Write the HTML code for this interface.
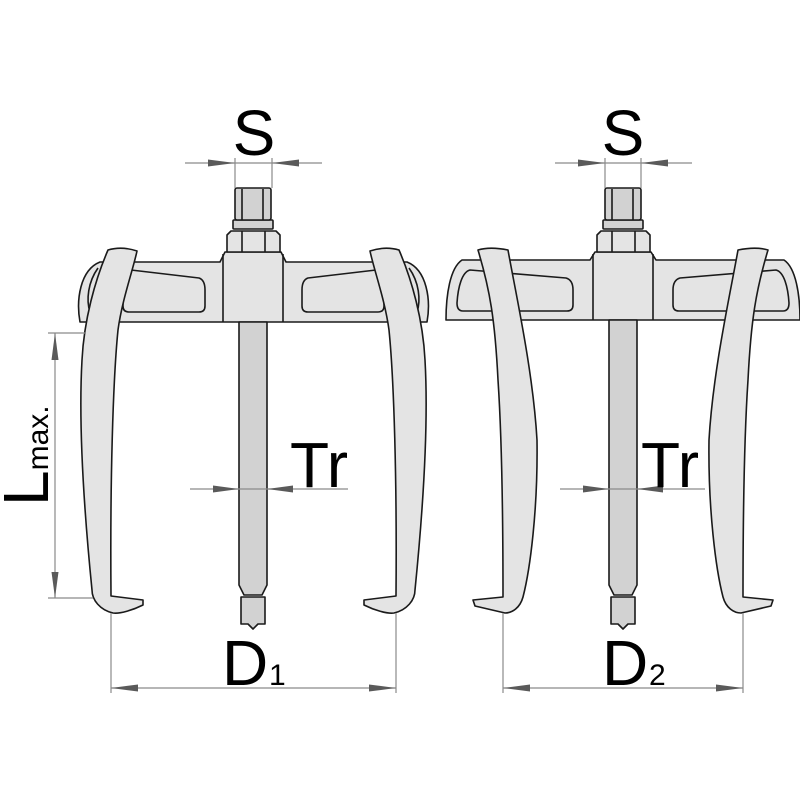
<!DOCTYPE html>
<html><head><meta charset="utf-8"><style>
html,body{margin:0;padding:0;background:#fff;}
svg{display:block;}
text{font-family:"Liberation Sans",Arial,sans-serif;fill:#000;}
.p{fill:#e4e4e4;stroke:#1a1a1a;stroke-width:1.6;stroke-linejoin:round;}
.d{fill:#d2d2d2;stroke:#1a1a1a;stroke-width:1.6;stroke-linejoin:round;}
.ln{stroke:#1a1a1a;stroke-width:1.6;fill:none;}
.dim{stroke:#8a8a8a;stroke-width:1.2;fill:none;}
.ar{fill:#5a5a5a;}
</style></head><body>
<svg width="800" height="800" viewBox="0 0 800 800" xmlns="http://www.w3.org/2000/svg">
<rect width="800" height="800" fill="#fff"/>

<!-- ===== LEFT PULLER ===== -->
<g>
  <!-- bar -->
  <path class="p" d="M80,322 C76,300 80,270 100,262 L220,262 L225,252 L281,252 L286,262 L407,262 C427,270 431,300 427,322 Z"/>
  <path class="ln" d="M98,268 C88,282 86,300 90,312"/>
  <path class="ln" d="M409,268 C419,282 421,300 417,312"/>
  <path class="p" d="M123,276 Q124,270 131,270 L199,278 Q205,280 205,290 L205,306 Q205,312 199,312 L129,312 Q123,312 123,306 Z"/>
  <path class="p" transform="translate(507,0) scale(-1,1)" d="M123,276 Q124,270 131,270 L199,278 Q205,280 205,290 L205,306 Q205,312 199,312 L129,312 Q123,312 123,306 Z"/>
  <line class="ln" x1="223" y1="254" x2="223" y2="322"/>
  <line class="ln" x1="283" y1="254" x2="283" y2="322"/>
  <!-- nut, washer, hex -->
  <path class="p" d="M227,252 L227,235 L231,231 L276,231 L280,235 L280,252 Z"/>
  <line class="ln" x1="242" y1="231" x2="242" y2="252"/>
  <line class="ln" x1="265" y1="231" x2="265" y2="252"/>
  <rect class="d" x="233" y="220" width="40" height="9" rx="1"/>
  <rect class="d" x="235" y="188" width="36" height="32" rx="2"/>
  <line class="ln" x1="242" y1="189" x2="242" y2="220"/>
  <line class="ln" x1="263" y1="189" x2="263" y2="220"/>
  <!-- rod -->
  <path class="d" d="M239,322 L267,322 L267,585 L262,595 L244,595 L239,585 Z"/>
  <path class="d" d="M241,597 L265,597 L265,624 L258,624 L253,629 L248,624 L241,624 Z"/>
  <!-- arms -->
  <path class="p" d="M108,250 C118,247 128,248 137,251 C133,270 122,300 118,330 C113,380 110,480 111,596 L143,600 L143,605 C133,610 120,614 113,613 C100,610 92,600 92,590 C85,520 78,430 82,360 C84,320 95,280 108,250 Z"/>
  <path class="p" transform="translate(507,0) scale(-1,1)" d="M108,250 C118,247 128,248 137,251 C133,270 122,300 118,330 C113,380 110,480 111,596 L143,600 L143,605 C133,610 120,614 113,613 C100,610 92,600 92,590 C85,520 78,430 82,360 C84,320 95,280 108,250 Z"/>
</g>

<!-- ===== RIGHT PULLER ===== -->
<g>
  <path class="p" d="M446,320 C446,295 450,268 462,260 L590,260 L595,252 L651,252 L656,260 L784,260 C796,268 800,295 800,320 Z"/>
  <path class="p" d="M457,303 C458,287 462,272 470,270 L566,278 Q573,280 573,290 L573,305 Q573,311 567,311 L463,311 Q457,311 457,303 Z"/>
  <path class="p" transform="translate(1246,0) scale(-1,1)" d="M457,303 C458,287 462,272 470,270 L566,278 Q573,280 573,290 L573,305 Q573,311 567,311 L463,311 Q457,311 457,303 Z"/>
  <line class="ln" x1="593" y1="254" x2="593" y2="320"/>
  <line class="ln" x1="653" y1="254" x2="653" y2="320"/>
  <path class="p" d="M597,252 L597,235 L601,231 L646,231 L650,235 L650,252 Z"/>
  <line class="ln" x1="612" y1="231" x2="612" y2="252"/>
  <line class="ln" x1="635" y1="231" x2="635" y2="252"/>
  <rect class="d" x="603" y="220" width="40" height="9" rx="1"/>
  <rect class="d" x="605" y="188" width="36" height="32" rx="2"/>
  <line class="ln" x1="612" y1="189" x2="612" y2="220"/>
  <line class="ln" x1="633" y1="189" x2="633" y2="220"/>
  <path class="d" d="M609,320 L637,320 L637,585 L632,595 L614,595 L609,585 Z"/>
  <path class="d" d="M611,597 L635,597 L635,624 L628,624 L623,629 L618,624 L611,624 Z"/>
  <path class="p" d="M478,250 C488,247 498,248 508,250 C515,290 533,370 537,440 C538,510 530,570 523,597 C520,608 512,613 505,613 L475,606 L473,600 L503,597 C503,520 502,440 498,380 C495,320 490,290 478,250 Z"/>
  <path class="p" transform="translate(1246,0) scale(-1,1)" d="M478,250 C488,247 498,248 508,250 C515,290 533,370 537,440 C538,510 530,570 523,597 C520,608 512,613 505,613 L475,606 L473,600 L503,597 C503,520 502,440 498,380 C495,320 490,290 478,250 Z"/>
</g>

<!-- ===== DIMENSIONS LEFT ===== -->
<line class="dim" x1="185" y1="163" x2="322" y2="163"/>
<line class="dim" x1="235" y1="158" x2="235" y2="188"/>
<line class="dim" x1="272" y1="158" x2="272" y2="188"/>
<polygon class="ar" points="235,163 208,159.5 208,166.5"/>
<polygon class="ar" points="272,163 299,159.5 299,166.5"/>
<text x="254" y="155" font-size="64" text-anchor="middle">S</text>

<line class="dim" x1="190" y1="489" x2="348" y2="489"/>
<polygon class="ar" points="239,489 213,485.5 213,492.5"/>
<polygon class="ar" points="267,489 293,485.5 293,492.5"/>
<text x="290" y="487" font-size="64">Tr</text>

<line class="dim" x1="111" y1="613" x2="111" y2="693"/>
<line class="dim" x1="396" y1="613" x2="396" y2="693"/>
<line class="dim" x1="111" y1="688" x2="396" y2="688"/>
<polygon class="ar" points="111,688 138,684.5 138,691.5"/>
<polygon class="ar" points="396,688 369,684.5 369,691.5"/>
<text x="222" y="685" font-size="64">D</text>
<text x="269" y="685" font-size="30">1</text>

<line class="dim" x1="48" y1="333" x2="86" y2="333"/>
<line class="dim" x1="48" y1="598" x2="93" y2="598"/>
<line class="dim" x1="55" y1="333" x2="55" y2="598"/>
<polygon class="ar" points="55,333 51.5,360 58.5,360"/>
<polygon class="ar" points="55,598 51.5,572 58.5,572"/>
<text transform="translate(48,506) rotate(-90)"><tspan font-size="64">L</tspan><tspan font-size="30">max.</tspan></text>

<!-- ===== DIMENSIONS RIGHT ===== -->
<line class="dim" x1="555" y1="163" x2="692" y2="163"/>
<line class="dim" x1="605" y1="158" x2="605" y2="188"/>
<line class="dim" x1="641" y1="158" x2="641" y2="188"/>
<polygon class="ar" points="605,163 578,159.5 578,166.5"/>
<polygon class="ar" points="641,163 668,159.5 668,166.5"/>
<text x="623" y="155" font-size="64" text-anchor="middle">S</text>

<line class="dim" x1="560" y1="489" x2="705" y2="489"/>
<polygon class="ar" points="609,489 583,485.5 583,492.5"/>
<polygon class="ar" points="637,489 663,485.5 663,492.5"/>
<text x="641" y="487" font-size="64">Tr</text>

<line class="dim" x1="503" y1="613" x2="503" y2="693"/>
<line class="dim" x1="743" y1="613" x2="743" y2="693"/>
<line class="dim" x1="503" y1="688" x2="743" y2="688"/>
<polygon class="ar" points="503,688 530,684.5 530,691.5"/>
<polygon class="ar" points="743,688 716,684.5 716,691.5"/>
<text x="602" y="685" font-size="64">D</text>
<text x="649" y="685" font-size="30">2</text>
</svg>
</body></html>
